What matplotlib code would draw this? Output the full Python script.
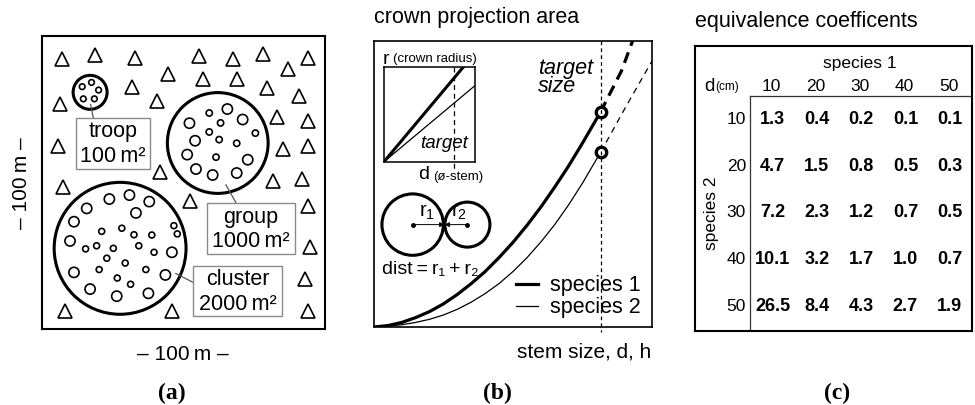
import numpy as np
import matplotlib
matplotlib.use('Agg')
import matplotlib.pyplot as plt
from matplotlib.patches import Circle, Ellipse, Rectangle


# ---------------------------------------------------
# DATA
# ---------------------------------------------------
# (a) tree positions in the 100 m x 100 m plot (metres)
tree_x = [7.0, 18.7, 32.9, 55.6, 67.6, 78.2, 87.0, 94.1, 44.6, 57.0, 69.0, 79.4, 90.9,
          6.4, 31.7, 40.5, 82.9, 94.1, 5.8, 85.3, 94.1, 41.7, 7.5, 81.7, 91.8, 52.3,
          94.1, 94.7, 92.9, 8.1, 45.8, 94.1]
tree_y = [95.4, 96.8, 95.6, 96.4, 95.4, 97.2, 91.9, 95.6, 90.1, 88.3, 88.3, 85.0, 82.4,
          79.5, 85.4, 80.7, 74.8, 73.6, 64.8, 63.6, 64.8, 55.6, 50.1, 52.4, 53.0, 45.1,
          43.6, 28.9, 17.7, 6.5, 6.5, 6.5]

# aggregations: name, area label, centre x, centre y, radius (m)
agg_names = ['troop', 'group', 'cluster']
agg_areas = ['100', '1000', '2000']
agg_x = [17.0, 62.1, 27.6]
agg_y = [83.6, 65.7, 28.5]
agg_r = [6.0, 17.8, 23.3]

# trees inside aggregations
troop_x = [14.2, 17.5, 20.0, 14.6, 18.5]
troop_y = [85.6, 87.1, 84.4, 81.3, 81.3]
group_big_x = [65.5, 52.1, 70.9, 54.1, 51.3, 72.7, 54.4, 60.3, 68.8]
group_big_y = [77.7, 72.7, 74.0, 66.5, 61.6, 59.8, 56.5, 54.4, 55.1]
group_small_x = [59.1, 63.1, 59.1, 62.6, 68.8, 75.4, 61.5]
group_small_y = [76.3, 72.8, 69.6, 66.9, 65.6, 69.2, 60.7]
cluster_big_x = [23.8, 30.9, 37.9, 15.8, 33.2, 11.3, 9.9, 45.9, 11.3, 43.6, 17.0, 26.4, 37.6]
cluster_big_y = [45.9, 47.3, 45.0, 42.6, 41.0, 37.9, 31.1, 27.1, 20.0, 19.1, 14.1, 11.6, 12.6]
cluster_small_x = [46.6, 47.8, 21.1, 28.2, 32.5, 38.8, 15.4, 19.3, 25.2, 34.2, 39.6, 22.9,
                   29.4, 20.2, 36.7, 26.6, 31.3]
cluster_small_y = [36.5, 33.6, 34.5, 35.6, 33.3, 33.2, 28.3, 29.4, 28.5, 29.4, 27.1, 25.0,
                   23.3, 21.0, 21.0, 18.0, 15.8]

# (b) crown projection area vs stem size
stem = [0.0, 0.05, 0.1, 0.15, 0.2, 0.25, 0.3, 0.35, 0.4, 0.45, 0.5, 0.55, 0.6, 0.65,
        0.7, 0.75, 0.815]
cpa_sp1 = [0.0, 0.005, 0.016, 0.033, 0.054, 0.081, 0.114, 0.152, 0.194, 0.243, 0.296,
           0.355, 0.419, 0.489, 0.563, 0.643, 0.752]
cpa_sp2 = [0.0, 0.003, 0.008, 0.016, 0.027, 0.042, 0.062, 0.087, 0.117, 0.152, 0.194,
           0.242, 0.297, 0.358, 0.427, 0.503, 0.611]
stem_ext1 = [0.815, 0.85, 0.89, 0.93]
cpa_ext1 = [0.752, 0.819, 0.895, 1.0]
stem_ext2 = [0.815, 0.85, 0.9, 0.95, 1.0]
cpa_ext2 = [0.611, 0.672, 0.76, 0.845, 0.93]
target = 0.815

# (c) equivalence coefficients
d_sp1 = [10, 20, 30, 40, 50]
d_sp2 = [10, 20, 30, 40, 50]
coef = [[1.3, 0.4, 0.2, 0.1, 0.1],
        [4.7, 1.5, 0.8, 0.5, 0.3],
        [7.2, 2.3, 1.2, 0.7, 0.5],
        [10.1, 3.2, 1.7, 1.0, 0.7],
        [26.5, 8.4, 4.3, 2.7, 1.9]]
# ---------------------------------------------------

W, H = 975, 406
plt.rcParams['font.family'] = ['Liberation Sans', 'DejaVu Sans']
plt.rcParams['mathtext.fontset'] = 'custom'
plt.rcParams['mathtext.rm'] = 'Liberation Sans'
plt.rcParams['mathtext.it'] = 'Liberation Sans:italic'


def rect(x0, y0, x1, y1):
    return [x0 / W, 1 - y1 / H, (x1 - x0) / W, (y1 - y0) / H]


def fxy(x, y):
    return x / W, 1 - y / H


def clean(ax, lw):
    ax.set_xticks([])
    ax.set_yticks([])
    for s in ax.spines.values():
        s.set_linewidth(lw)


fig = plt.figure(figsize=(9.75, 4.06), dpi=100)

# ---------------- (a) ----------------
ax = fig.add_axes(rect(42, 37, 325, 330))
ax.set_xlim(0, 100)
ax.set_ylim(0, 103.5)
clean(ax, 1.5)
ax.plot(tree_x, tree_y, ls='none', marker='^', ms=9.5, mfc='white', mec='black', mew=1.2)
for x, y, r in zip(agg_x, agg_y, agg_r):
    ax.add_patch(Circle((x, y), r, fill=False, lw=2.2, ec='black'))
for xs, ys, r in [(troop_x, troop_y, 1.0), (group_big_x, group_big_y, 1.8),
                  (group_small_x, group_small_y, 1.1), (cluster_big_x, cluster_big_y, 1.8),
                  (cluster_small_x, cluster_small_y, 1.05)]:
    for x, y in zip(xs, ys):
        ax.add_patch(Circle((x, y), r, fill=False, lw=1.2, ec='black'))

label_boxes = [(11.9, 56.5, 38.2, 74.6), (58.4, 26.5, 89.4, 44.5), (53.5, 4.7, 84.7, 22.4)]
leaders = [((17.2, 79.3), (18.1, 74.6)), ((65.0, 50.9), (68.6, 44.5)),
           ((47.3, 19.6), (53.5, 16.4))]
for name, area, (x0, y0, x1, y1), (p0, p1) in zip(agg_names, agg_areas, label_boxes, leaders):
    ax.add_patch(Rectangle((x0, y0), x1 - x0, y1 - y0, fill=True, fc='white',
                           ec='#8a8a8a', lw=1.0, zorder=3))
    ax.plot([p0[0], p1[0]], [p0[1], p1[1]], color='#555555', lw=0.9, zorder=2)
    cx = (x0 + x1) / 2
    cy = (y0 + y1) / 2
    ax.text(cx, cy + 4.4, name, ha='center', va='center', fontsize=15.5, zorder=4)
    ax.text(cx, cy - 4.4, area + '\u2009m\u00b2', ha='center', va='center', fontsize=15.5,
            zorder=4)

fig.text(*fxy(183, 355), '\u2013 100\u2009m \u2013', ha='center', va='center', fontsize=15)
fig.text(*fxy(22, 183), '\u2013 100\u2009m \u2013', ha='center', va='center', fontsize=15,
         rotation=90)

# ---------------- (b) ----------------
bx = fig.add_axes(rect(374, 42, 652, 328))
bx.set_xlim(0, 1)
bx.set_ylim(0, 1)
clean(bx, 1.2)
bx.plot(stem, cpa_sp1, color='black', lw=2.3, solid_capstyle='butt')
bx.plot(stem, cpa_sp2, color='black', lw=0.9)
bx.plot(stem_ext1, cpa_ext1, color='black', lw=2.3, dashes=(3.5, 2.2))
bx.plot(stem_ext2, cpa_ext2, color='black', lw=0.9, dashes=(5, 4))
bx.plot([target, target], [cpa_sp1[-1], cpa_sp2[-1]], ls='none', marker='o', ms=7.5,
        mfc='white', mec='black', mew=2.4, zorder=4)
bx.plot([target, target], [1.0, -0.018], color='black', lw=0.9, dashes=(3, 2.5),
        zorder=5, clip_on=False)
bx.text(0.59, 0.876, 'target\nsize', style='italic', fontsize=15.5, ha='left', va='center',
        linespacing=0.85)

# legend
bx.plot([0.511, 0.59], [0.150, 0.150], color='black', lw=2.3)
bx.plot([0.511, 0.59], [0.072, 0.072], color='black', lw=0.9)
bx.text(0.633, 0.150, 'species 1', fontsize=15.5, va='center', ha='left')
bx.text(0.633, 0.072, 'species 2', fontsize=15.5, va='center', ha='left')

# inset: crown radius vs stem diameter
ix = bx.inset_axes([0.035, 0.577, 0.33, 0.333])
ix.set_xlim(0, 1)
ix.set_ylim(0, 1)
clean(ix, 1.1)
ix.plot([0, 0.87], [0, 1], color='black', lw=2.2)
ix.plot([0, 1], [0, 0.806], color='black', lw=0.9)
ix.plot([0.763, 0.763], [1, -0.09], color='black', lw=0.9, dashes=(4, 3), clip_on=False)
ix.text(0.66, 0.2, 'target', style='italic', fontsize=13.5, ha='center', va='center')
fig.text(*fxy(383, 59), 'r', fontsize=14, ha='left', va='center')
fig.text(*fxy(393, 59), '(crown radius)', fontsize=9.5, ha='left', va='center')
fig.text(*fxy(418, 175), 'd', fontsize=14, ha='left', va='center')
fig.text(*fxy(433, 177), '(\u00f8-stem)', fontsize=9.5, ha='left', va='center')

# touching crowns
c1x, c2x, cy = 0.139, 0.336, 0.358
bx.add_patch(Ellipse((c1x, cy), 61.4 / 278, 61.4 / 286, fill=False, lw=2.2, ec='black'))
bx.add_patch(Ellipse((c2x, cy), 45 / 278, 45 / 286, fill=False, lw=2.2, ec='black'))
touch = 0.254
bx.annotate('', xy=(touch, cy), xytext=(c1x, cy),
            arrowprops=dict(arrowstyle='-|>', lw=0.7, color='black', mutation_scale=7,
                            shrinkA=0, shrinkB=0))
bx.annotate('', xy=(touch, cy), xytext=(c2x, cy),
            arrowprops=dict(arrowstyle='-|>', lw=0.7, color='black', mutation_scale=7,
                            shrinkA=0, shrinkB=0))
bx.plot([c1x, c2x], [cy, cy], ls='none', marker='o', ms=2.5, color='black')
bx.text(0.19, 0.405, r'$\mathrm{r_1}$', fontsize=14.5, ha='center', va='center')
bx.text(0.305, 0.405, r'$\mathrm{r_2}$', fontsize=14.5, ha='center', va='center')
bx.text(0.027, 0.205, 'dist\u2009=\u2009r\u2081\u2009+\u2009r\u2082', fontsize=14,
        ha='left', va='center', family=['Liberation Sans', 'DejaVu Sans'])

fig.text(*fxy(374, 18), 'crown projection area', fontsize=15.5, ha='left', va='center')
fig.text(*fxy(651, 352), 'stem size, d, h', fontsize=15, ha='right', va='center')

# ---------------- (c) ----------------
cx_ = fig.add_axes(rect(695, 47, 972, 332))
cx_.set_xlim(-1.735, 4.525)
cx_.set_ylim(4.54, -1.54)
clean(cx_, 1.5)
cx_.plot([-0.49, -0.49], [-0.475, 4.6], color='#333333', lw=0.9)
cx_.plot([-0.49, 4.6], [-0.475, -0.475], color='#333333', lw=0.9)
cx_.text(2.0, -1.19, 'species 1', fontsize=12.5, ha='center', va='center')
cx_.text(-1.36, 2.0, 'species 2', fontsize=12.5, ha='center', va='center', rotation=90)
cx_.text(-1.53, -0.69, 'd', fontsize=13.5, ha='left', va='center')
cx_.text(-1.27, -0.68, '(cm)', fontsize=8.5, ha='left', va='center')
for i, d in enumerate(d_sp1):
    cx_.text(i, -0.69, str(d), fontsize=12.5, ha='center', va='center')
for j, d in enumerate(d_sp2):
    cx_.text(-0.58, j, str(d), fontsize=12.5, ha='right', va='center')
    for i in range(len(d_sp1)):
        cx_.text(i + 0.02, j, '%.1f' % coef[j][i], fontsize=13, fontweight='bold',
                 ha='center', va='center')
fig.text(*fxy(695, 22), 'equivalence coefficents', fontsize=15.5, ha='left', va='center')

# panel letters
for x, lab in [(172, '(a)'), (497, '(b)'), (837, '(c)')]:
    fig.text(*fxy(x, 393), lab, fontsize=17, fontweight='bold', family='Liberation Serif',
             ha='center', va='center')

fig.savefig('out.png', dpi=100)
